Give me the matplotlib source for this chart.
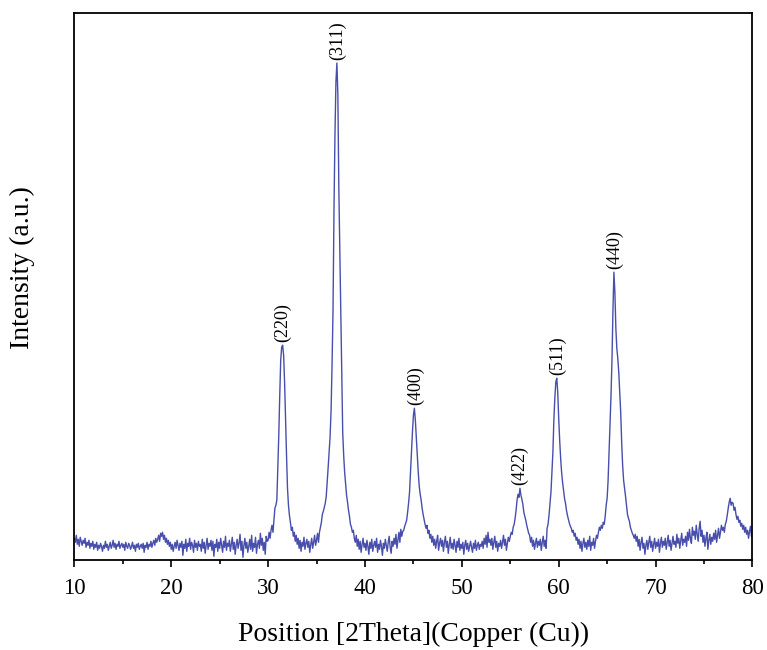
import numpy as np
import matplotlib
matplotlib.use("Agg")
import matplotlib.pyplot as plt
from matplotlib.ticker import MultipleLocator

# XRD scan, 10-80 deg in 0.1 deg steps (a.u.)
i_10_20 = [22, 18, 25, 16, 21, 14, 23, 19, 15, 20,
           17, 22, 13, 18, 15, 20, 12, 17, 14, 19,
           11, 16, 13, 18, 10, 15, 12, 17, 14, 9,
           15, 12, 19, 13, 16, 10, 14, 18, 12, 15,
           20, 13, 17, 11, 16, 14, 19, 12, 15, 17,
           13, 16, 10, 18, 14, 12, 17, 15, 11, 14,
           18, 12, 15, 9, 16, 13, 17, 11, 14, 16,
           12, 17, 8, 15, 13, 18, 11, 16, 14, 19,
           13, 17, 20, 15, 22, 18, 21, 25, 19, 27,
           24, 28, 21, 25, 18, 22, 16, 20, 14, 18]
i_20_30 = [11, 16, 9, 14, 18, 12, 20, 15, 10, 17,
           13, 19, 5, 16, 12, 21, 9, 17, 14, 22,
           11, 18, 15, 8, 20, 13, 17, 10, 19, 14,
           16, 9, 21, 12, 18, 7, 15, 22, 11, 17,
           14, 20, 10, 19, 4, 16, 13, 21, 9, 18,
           12, 22, 15, 8, 19, 13, 24, 10, 17, 14,
           20, 9, 16, 23, 11, 18, 6, 15, 21, 12,
           17, 26, 10, 19, 3, 15, 22, 12, 18, 8,
           14, 21, 11, 25, 9, 17, 13, 23, 7, 16,
           20, 12, 27, 15, 22, 10, 18, 6, 24, 19]
i_30_40 = [20, 28, 22, 30, 35, 28, 40, 52, 55, 60,
           92, 125, 165, 200, 213, 215, 205, 178, 140, 105,
           72, 55, 45, 38, 30, 33, 24, 28, 19, 25,
           16, 22, 12, 20, 9, 18, 14, 23, 11, 17,
           21, 13, 19, 8, 16, 22, 12, 18, 25, 15,
           20, 27, 18, 28, 33, 38, 46, 49, 53, 57,
           64, 78, 93, 108, 124, 150, 195, 250, 350, 425,
           478, 497, 465, 372, 310, 245, 180, 128, 105, 88,
           76, 65, 58, 50, 44, 36, 33, 28, 30, 22,
           18, 25, 14, 21, 11, 19, 8, 16, 22, 13]
i_40_50 = [17, 10, 20, 14, 6, 18, 12, 21, 9, 15,
           19, 13, 22, 8, 16, 11, 20, 14, 5, 17,
           12, 21, 15, 9, 18, 24, 13, 7, 19, 14,
           22, 16, 26, 12, 20, 28, 18, 31, 24, 29,
           30, 34, 37, 40, 48, 57, 68, 88, 109, 128,
           145, 152, 140, 122, 105, 88, 74, 66, 60, 52,
           46, 41, 36, 32, 35, 27, 30, 22, 26, 18,
           24, 15, 21, 12, 19, 25, 10, 17, 22, 14,
           20, 9, 18, 24, 13, 19, 7, 16, 23, 12,
           17, 11, 21, 15, 8, 19, 13, 22, 10, 16]
i_50_60 = [12, 18, 6, 15, 20, 11, 17, 9, 14, 19,
           13, 8, 17, 12, 20, 10, 15, 18, 11, 16,
           14, 19, 12, 22, 16, 25, 13, 28, 18, 21,
           15, 22, 11, 18, 24, 13, 19, 9, 17, 14,
           20, 12, 18, 25, 15, 21, 10, 17, 23, 19,
           24, 28, 26, 33, 36, 42, 50, 60, 66, 63,
           72, 65, 61, 56, 48, 44, 40, 35, 31, 27,
           25, 18, 23, 14, 20, 11, 17, 22, 13, 19,
           15, 21, 10, 18, 24, 14, 20, 12, 32, 36,
           45, 57, 68, 88, 108, 140, 162, 178, 182, 168]
i_60_70 = [142, 120, 102, 88, 78, 70, 62, 57, 50, 45,
           41, 37, 34, 32, 28, 30, 24, 27, 20, 23,
           16, 21, 12, 19, 9, 17, 22, 13, 18, 11,
           20, 14, 24, 10, 18, 15, 22, 12, 19, 25,
           22, 28, 33, 30, 35, 32, 38, 36, 44, 55,
           62, 80, 108, 135, 165, 200, 250, 288, 268, 232,
           212, 202, 188, 168, 148, 118, 95, 80, 72, 64,
           55, 46, 42, 39, 33, 30, 27, 25, 22, 26,
           19, 24, 14, 21, 10, 18, 23, 12, 17, 6,
           15, 20, 11, 18, 24, 13, 19, 9, 16, 22]
i_70_80 = [12, 18, 14, 21, 8, 17, 23, 13, 19, 15,
           22, 11, 18, 25, 14, 20, 10, 17, 24, 16,
           19, 13, 26, 17, 22, 12, 20, 27, 15, 21,
           18, 24, 14, 28, 20, 31, 22, 17, 33, 25,
           29, 21, 35, 26, 19, 32, 39, 24, 30, 18,
           25, 14, 22, 28, 11, 20, 26, 16, 23, 19,
           27, 21, 30, 18, 25, 32, 22, 28, 35, 30,
           33, 28, 36, 39, 45, 52, 58, 62, 55, 58,
           57, 50, 53, 46, 41, 44, 38, 40, 34, 37,
           31, 35, 28, 33, 26, 30, 22, 29, 34, 24,
           27]

peak_labels = ["(220)", "(311)", "(400)", "(422)", "(511)", "(440)"]
peak_pos = [31.5, 37.2, 45.2, 56.0, 59.9, 65.75]

intensity = np.array(i_10_20 + i_20_30 + i_30_40 + i_40_50 + i_50_60 + i_60_70 + i_70_80)
two_theta = np.round(10 + 0.1 * np.arange(len(intensity)), 1)

plt.rcParams["font.family"] = ["Liberation Serif", "DejaVu Serif"]

fig = plt.figure(figsize=(7.67, 6.5), dpi=100)
ax = fig.add_axes([0.097, 0.138, 0.884, 0.842])

ax.plot(two_theta, intensity, color="#484eab", lw=1.0)

for lab, pos in zip(peak_labels, peak_pos):
    near = np.abs(two_theta - pos) <= 0.3
    top = intensity[near].max()
    ax.text(pos, top + 3, lab, rotation=90, ha="center", va="bottom", fontsize=13)

ax.set_xlim(10, 80)
ax.set_ylim(0, 547)
ax.set_yticks([])
ax.xaxis.set_major_locator(MultipleLocator(10))
ax.xaxis.set_minor_locator(MultipleLocator(5))
ax.tick_params(axis="x", which="major", direction="out", length=5, width=1.2, labelsize=16.5, pad=8)
ax.tick_params(axis="x", which="minor", direction="out", length=3, width=1.2)
for sp in ax.spines.values():
    sp.set_linewidth(1.3)

ax.set_xlabel("Position [2Theta](Copper (Cu))", fontsize=20, labelpad=16)
ax.set_ylabel("Intensity (a.u.)", fontsize=20)
ax.yaxis.set_label_coords(-0.058, 0.535)

fig.savefig("out.png", dpi=100)
